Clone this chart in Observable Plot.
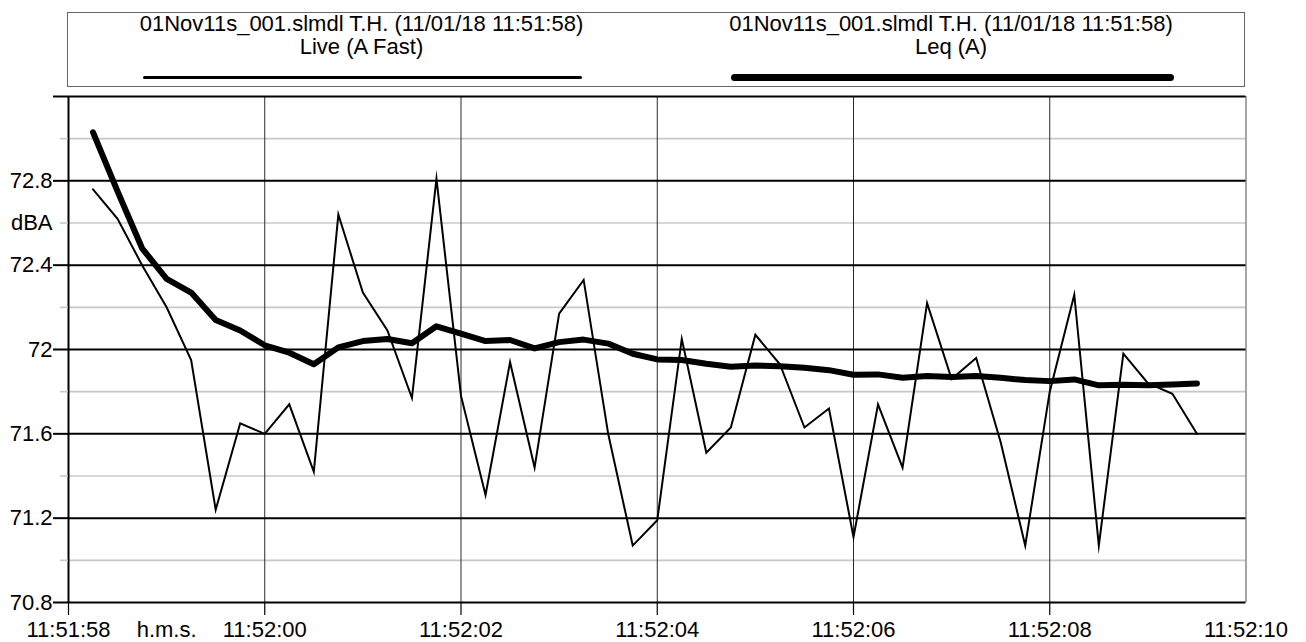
<!DOCTYPE html>
<html>
<head>
<meta charset="utf-8">
<script src="https://cdn.jsdelivr.net/npm/d3@7"></script>
<script src="https://cdn.jsdelivr.net/npm/@observablehq/plot@0.6"></script>
<style>
  html, body { margin: 0; padding: 0; background: white; }
  body { width: 1306px; height: 642px; overflow: hidden; font-family: "Liberation Sans", Arial, sans-serif; }
  #legend { position: relative; width: 1306px; height: 90px; }
  #legend .box { position: absolute; left: 67px; top: 12px; width: 1178px; height: 75px; border: 1px solid #666; box-sizing: border-box; }
  #legend .txt { position: absolute; top: 13px; width: 589px; text-align: center; font-size: 22px; line-height: 22.5px; color: #000; }
  #legend .ln { position: absolute; background: #000; }
</style>
</head>
<body>
<div id="legend"></div>
<div id="chart"></div>
<script>
// ---- data ----
const fileLabel = "01Nov11s_001.slmdl T.H. (11/01/18 11:51:58)";
const seriesNames = ["Live (A Fast)", "Leq (A)"];
const startTime = new Date(2018, 10, 1, 11, 51, 58);
const offsets = [0.25,0.5,0.75,1,1.25,1.5,1.75,2,2.25,2.5,2.75,3,3.25,3.5,3.75,4,4.25,4.5,4.75,5,
  5.25,5.5,5.75,6,6.25,6.5,6.75,7,7.25,7.5,7.75,8,8.25,8.5,8.75,9,9.25,9.5,9.75,10,
  10.25,10.5,10.75,11,11.25,11.5];
const live = [72.76, 72.62, 72.40, 72.20, 71.95, 71.24, 71.65, 71.60, 71.74, 71.42,
  72.64, 72.27, 72.09, 71.77, 72.81, 71.78, 71.31, 71.94, 71.44, 72.17,
  72.33, 71.60, 71.07, 71.19, 72.05, 71.51, 71.63, 72.07, 71.93, 71.63,
  71.72, 71.11, 71.74, 71.44, 72.22, 71.86, 71.96, 71.56, 71.07, 71.80,
  72.26, 71.07, 71.98, 71.84, 71.79, 71.60];
const leq = [73.03, 72.75, 72.48, 72.335, 72.27, 72.14, 72.09, 72.02, 71.985, 71.93,
  72.01, 72.04, 72.05, 72.03, 72.11, 72.075, 72.04, 72.045, 72.005, 72.035,
  72.047, 72.028, 71.98, 71.953, 71.95, 71.932, 71.918, 71.924, 71.921, 71.913,
  71.902, 71.88, 71.882, 71.866, 71.874, 71.869, 71.874, 71.866, 71.855, 71.85,
  71.858, 71.83, 71.833, 71.83, 71.834, 71.839];
const xTickSeconds = [0, 2, 4, 6, 8, 10, 12];   // 11:51:58 ... 11:52:10
const unitLabelSecond = 1;                      // "h.m.s." placed at 11:51:59
const unitLabelX = "h.m.s.";
const yMajor = [70.8, 71.2, 71.6, 72, 72.4, 72.8];
const yMinor = [71.0, 71.4, 71.8, 72.2, 72.6, 73.0];
const yTop = 73.2;
const unitLabelY = "dBA";
const unitLabelYAt = 72.6;

// ---- build ----
const at = s => new Date(startTime.getTime() + s * 1000);
const rows = offsets.map((o, i) => ({t: at(o), live: live[i], leq: leq[i]}));
const xTicks = xTickSeconds.map(at);
const fmt = d3.timeFormat("%H:%M:%S");
const font = '"Liberation Sans", Arial, sans-serif';

// legend
const lg = document.getElementById("legend");
lg.innerHTML = `<div class="box"></div>
  <div class="txt" style="left:67px">${fileLabel}<br>${seriesNames[0]}</div>
  <div class="txt" style="left:656.5px">${fileLabel}<br>${seriesNames[1]}</div>
  <div class="ln" style="left:143px;top:75.5px;width:439px;height:3px;border-radius:1.5px"></div>
  <div class="ln" style="left:731px;top:73.5px;width:443px;height:7px;border-radius:3.5px"></div>`;

const chart = Plot.plot({
  width: 1306,
  height: 552,
  marginLeft: 68,
  marginRight: 60.5,
  marginTop: 6,
  marginBottom: 40,
  style: {fontFamily: font, fontSize: "22px", background: "white", color: "black", overflow: "visible"},
  x: {type: "time", domain: [xTicks[0], xTicks[xTicks.length - 1]]},
  y: {domain: [70.8, yTop]},
  marks: [
    // grid
    Plot.ruleY(yMinor, {stroke: "#c8c8c8", strokeWidth: 1.6}),
    Plot.ruleX(xTicks.slice(1, -1), {stroke: "#2a2a2a", strokeWidth: 1}),
    Plot.ruleX([xTicks[xTicks.length - 1]], {stroke: "#888", strokeWidth: 1.5}),
    Plot.ruleY([...yMajor, yTop], {stroke: "black", strokeWidth: 2}),
    Plot.ruleX([xTicks[0]], {stroke: "black", strokeWidth: 2}),
    // series
    Plot.line(rows, {x: "t", y: "live", stroke: "black", strokeWidth: 2, strokeLinejoin: "miter", strokeMiterlimit: 10}),
    Plot.line(rows, {x: "t", y: "leq", stroke: "black", strokeWidth: 6, strokeLinecap: "round", strokeLinejoin: "round"}),
    // y axis
    Plot.axisY(yMajor, {tickSize: 15, tickPadding: 1, strokeWidth: 2, tickFormat: d => String(d), label: null, fill: "black"}),
    Plot.axisY(yMinor, {tickSize: 8, stroke: "#c8c8c8", strokeWidth: 1.6, fill: "none", label: null}),
    Plot.axisY([yTop], {tickSize: 15, strokeWidth: 2, fill: "none", label: null}),
    Plot.axisY([unitLabelYAt], {tickSize: 0, tickPadding: 16, tickFormat: () => unitLabelY, label: null, fill: "black"}),
    // x axis
    Plot.axisX(xTicks.slice(0, -1), {tickSize: 13, stroke: "black", strokeWidth: 1.2, fill: "none", label: null}),
    Plot.axisX(xTicks, {tickSize: 0, tickPadding: 19, tickFormat: fmt, label: null, fill: "black"}),
    Plot.axisX([at(unitLabelSecond)], {tickSize: 0, tickPadding: 19, tickFormat: () => unitLabelX, label: null, fill: "black"})
  ]
});
document.getElementById("chart").appendChild(chart);
</script>
</body>
</html>
